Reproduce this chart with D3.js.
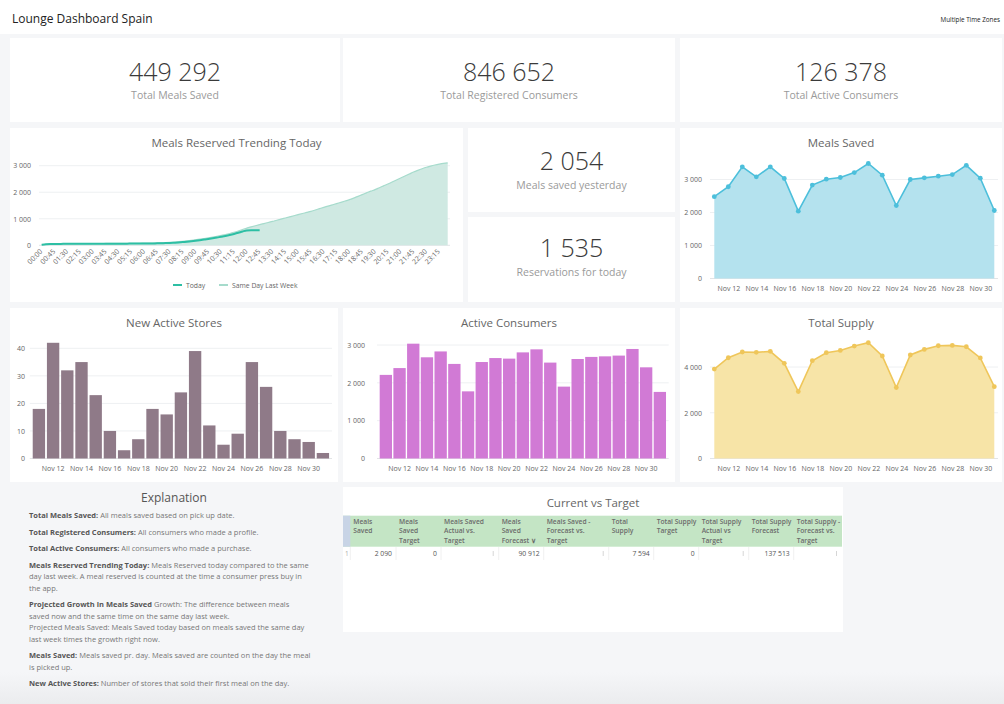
<!DOCTYPE html>
<html>
<head>
<meta charset="utf-8">
<script src="https://cdn.jsdelivr.net/npm/d3@7"></script>
<style>
body { margin: 0; width: 1004px; height: 704px; overflow: hidden; position: relative;
       background: #f5f6f8; font-family: "Open Sans", sans-serif; }
.panel { position: absolute; background: #fff; }
.kpi-num { font-size: 25px; font-weight: 300; fill: #3a3a3a; }
.kpi-lab { font-size: 10.5px; fill: #9a9a9a; }
.title { font-size: 11.5px; fill: #666; }
.axis text { font-family: "Open Sans", sans-serif; font-size: 7px; fill: #666; }
#explain { position: absolute; left: 29px; top: 510px; font-size: 7.5px; line-height: 11.5px; color: #777; white-space: nowrap; }
#explain p { margin: 0 0 5px 0; }
#explain b { color: #555; }
</style>
</head>
<body>
<script>
// ---------- data ----------
var kpiLabels = ["Total Meals Saved", "Total Registered Consumers", "Total Active Consumers"];
var kpiValues = [449292, 846652, 126378];
var smallKpiLabels = ["Meals saved yesterday", "Reservations for today"];
var smallKpiValues = [2054, 1535];

var timeSlots = [
  "00:00","00:15","00:30","00:45","01:00","01:15","01:30","01:45","02:00","02:15","02:30","02:45",
  "03:00","03:15","03:30","03:45","04:00","04:15","04:30","04:45","05:00","05:15","05:30","05:45",
  "06:00","06:15","06:30","06:45","07:00","07:15","07:30","07:45","08:00","08:15","08:30","08:45",
  "09:00","09:15","09:30","09:45","10:00","10:15","10:30","10:45","11:00","11:15","11:30","11:45",
  "12:00","12:15","12:30","12:45","13:00","13:15","13:30","13:45","14:00","14:15","14:30","14:45",
  "15:00","15:15","15:30","15:45","16:00","16:15","16:30","16:45","17:00","17:15","17:30","17:45",
  "18:00","18:15","18:30","18:45","19:00","19:15","19:30","19:45","20:00","20:15","20:30","20:45",
  "21:00","21:15","21:30","21:45","22:00","22:15","22:30","22:45","23:00","23:15","23:30","23:45"];
var timeTicks = ["00:00","00:45","01:30","02:15","03:00","03:45","04:30","05:15","06:00","06:45","07:30",
  "08:15","09:00","09:45","10:30","11:15","12:00","12:45","13:30","14:15","15:00","15:45","16:30",
  "17:15","18:00","18:45","19:30","20:15","21:00","21:45","22:30","23:15"];
var lastWeekMeals = [
  25,35,45,50,55,58,60,62,63,64, 65,66,67,68,68,69,70,70,71,72,
  73,74,75,77,80,83,87,92,98,104, 112,122,135,150,168,188,210,232,256,282,
  310,340,372,405,445,490,540,595,650,695, 738,780,820,860,900,945,988,1030,1072,1113,
  1155,1197,1238,1280,1330,1380,1430,1477,1523,1570, 1620,1670,1720,1780,1845,1910,1975,2040,2100,2170,
  2240,2310,2385,2460,2535,2610,2685,2760,2825,2885, 2940,2985,3025,3060,3090,3110];
var todayMeals = [
  20,35,45,50,52,54,55,56,57,58, 58,59,59,60,60,61,61,62,62,63,
  63,64,65,66,67,69,71,74,78,83, 90,98,108,120,135,152,172,193,216,240,
  265,292,320,350,385,425,470,520,560,565, 565,565];

var days = ["Nov 11","Nov 12","Nov 13","Nov 14","Nov 15","Nov 16","Nov 17","Nov 18","Nov 19","Nov 20",
  "Nov 21","Nov 22","Nov 23","Nov 24","Nov 25","Nov 26","Nov 27","Nov 28","Nov 29","Nov 30","Dec 1"];
var dayTicks = ["Nov 12","Nov 14","Nov 16","Nov 18","Nov 20","Nov 22","Nov 24","Nov 26","Nov 28","Nov 30"];
var mealsSaved = [2480,2780,3385,3080,3385,3030,2040,2830,3010,3060,3210,3485,3130,2210,3000,3050,3100,3150,3430,3040,2060];
var newActiveStores = [18,42,32,35,23,10,3,7,18,16,24,39,12,5,9,35,26,10,7,6,2];
var activeConsumers = [2210,2390,3035,2675,2830,2500,1775,2550,2655,2640,2805,2885,2535,1900,2630,2685,2700,2720,2895,2410,1760];
var totalSupply = [3910,4405,4655,4640,4685,4160,2925,4275,4625,4725,4915,5060,4480,3100,4525,4770,4930,4945,4885,4395,3140];

var tableHeaders = ["Meals\nSaved", "Meals\nSaved\nTarget", "Meals Saved\nActual vs.\nTarget", "Meals\nSaved\nForecast \u2228",
  "Meals Saved -\nForecast vs.\nTarget", "Total\nSupply", "Total Supply\nTarget", "Total Supply\nActual vs\nTarget",
  "Total Supply\nForecast", "Total Supply -\nForecast vs.\nTarget"];
var tableRow = [2090, 0, null, 90912, null, 7594, 0, null, 137513, null];

var explanation = [
  ["Total Meals Saved:", ["All meals saved based on pick up date."]],
  ["Total Registered Consumers:", ["All consumers who made a profile."]],
  ["Total Active Consumers:", ["All consumers who made a purchase."]],
  ["Meals Reserved Trending Today:", ["Meals Reserved today compared to the same",
     "day last week. A meal reserved is counted at the time a consumer press buy in", "the app."]],
  ["Projected Growth in Meals Saved", ["Growth: The difference between meals",
     "saved now and the same time on the same day last week.",
     "Projected Meals Saved: Meals Saved today based on meals saved the same day",
     "last week times the growth right now."]],
  ["Meals Saved:", ["Meals saved pr. day. Meals saved are counted on the day the meal", "is picked up."]],
  ["New Active Stores:", ["Number of stores that sold their first meal on the day."]]
];

// ---------- helpers ----------
var fmtNum = d3.formatLocale({decimal: ",", thousands: " ", grouping: [3], currency: ["", ""]}).format(",d");
var body = d3.select("body");

// bottom shade, drawn first so it stays underneath
body.append("div").style("position", "absolute").style("left", "0").style("top", "672px")
  .style("width", "1004px").style("height", "32px")
  .style("background", "linear-gradient(#f5f6f800, #ebecee)");

function panel(x, y, w, h) {
  return body.append("svg").attr("class", "panel")
    .style("left", x + "px").style("top", y + "px")
    .attr("width", w).attr("height", h);
}

function kpi(svg, w, value, label, numY, labY) {
  svg.append("text").attr("class", "kpi-num").attr("x", w / 2).attr("y", numY)
    .attr("text-anchor", "middle").text(fmtNum(value));
  svg.append("text").attr("class", "kpi-lab").attr("x", w / 2).attr("y", labY)
    .attr("text-anchor", "middle").text(label);
}

function title(svg, w, text) {
  svg.append("text").attr("class", "title").attr("x", w / 2).attr("y", 19)
    .attr("text-anchor", "middle").text(text);
}

function grid(svg, y, ticks, x1, x2) {
  svg.append("g").selectAll("line").data(ticks).join("line")
    .attr("x1", x1).attr("x2", x2)
    .attr("y1", function(d) { return y(d); }).attr("y2", function(d) { return y(d); })
    .attr("stroke", function(d) { return d === 0 ? "#e2e4e6" : "#eef0f2"; });
}

function yAxis(svg, y, ticks, lx) {
  svg.append("g").attr("class", "axis").attr("transform", "translate(" + lx + ",0)")
    .call(d3.axisLeft(y).tickValues(ticks).tickSize(0).tickPadding(0).tickFormat(fmtNum))
    .call(function(g) { g.select(".domain").remove(); });
}

function xAxis(svg, x, ticks, baseY) {
  svg.append("g").attr("class", "axis").attr("transform", "translate(0," + baseY + ")")
    .call(d3.axisBottom(x).tickValues(ticks).tickSize(0).tickPadding(8))
    .call(function(g) { g.select(".domain").remove(); });
}

// ---------- header ----------
var header = panel(0, 0, 1004, 34);
header.append("text").attr("x", 12).attr("y", 23).attr("font-size", 12).attr("fill", "#222")
  .text("Lounge Dashboard Spain");
header.append("text").attr("x", 1000).attr("y", 22).attr("font-size", 6.3).attr("fill", "#222")
  .attr("text-anchor", "end").text("Multiple Time Zones");

// ---------- KPI row ----------
var kpiPos = [[10, 330], [343, 332], [680, 322]];
kpiPos.forEach(function(p, i) {
  var s = panel(p[0], 38, p[1], 84);
  kpi(s, p[1], kpiValues[i], kpiLabels[i], 43, 61);
});
var s1 = panel(468, 128, 207, 84);
kpi(s1, 207, smallKpiValues[0], smallKpiLabels[0], 42, 61);
var s2 = panel(468, 217, 207, 85);
kpi(s2, 207, smallKpiValues[1], smallKpiLabels[1], 40, 59);

// ---------- Meals Reserved Trending Today ----------
(function() {
  var w = 453, svg = panel(10, 128, w, 174);
  title(svg, w, "Meals Reserved Trending Today");
  var x = d3.scalePoint().domain(timeSlots).range([31.7, 437.7]);
  var y = d3.scaleLinear().domain([0, 3000]).range([117.3, 37.7]);
  grid(svg, y, [0, 1000, 2000, 3000], 29, 440);
  yAxis(svg, y, [0, 1000, 2000, 3000], 21);

  var area = d3.area().x(function(d, i) { return x(timeSlots[i]); })
    .y0(y(0)).y1(function(d) { return y(d); }).curve(d3.curveMonotoneX);
  var line = d3.line().x(function(d, i) { return x(timeSlots[i]); })
    .y(function(d) { return y(d); }).curve(d3.curveMonotoneX);
  svg.append("path").datum(lastWeekMeals).attr("d", area).attr("fill", "#cfe9e2");
  svg.append("path").datum(lastWeekMeals).attr("d", line).attr("fill", "none")
    .attr("stroke", "#a6dbcc").attr("stroke-width", 1.2);
  svg.append("path").datum(todayMeals).attr("d", line).attr("fill", "none")
    .attr("stroke", "#2dbfa4").attr("stroke-width", 2);

  var gx = svg.append("g").attr("class", "axis").attr("transform", "translate(0," + y(0) + ")")
    .call(d3.axisBottom(x).tickValues(timeTicks).tickSize(0))
    .call(function(g) { g.select(".domain").remove(); });
  gx.selectAll("text").attr("y", 0).attr("dy", "0.35em").attr("x", 0)
    .attr("text-anchor", "end").attr("font-size", 6.8)
    .attr("transform", "translate(-1,5) rotate(-45)");

  var legend = [["Today", "#2dbfa4", 163], ["Same Day Last Week", "#a6dbcc", 209]];
  legend.forEach(function(l) {
    svg.append("line").attr("x1", l[2]).attr("x2", l[2] + 9).attr("y1", 157).attr("y2", 157)
      .attr("stroke", l[1]).attr("stroke-width", 2);
    svg.append("text").attr("x", l[2] + 13).attr("y", 159.5).attr("font-size", 6.8)
      .attr("fill", "#666").text(l[0]);
  });
})();

// ---------- area + dots charts ----------
function areaChart(px, py, data, yMax, ticks, stroke, fill, name, topY) {
  var w = 322, svg = panel(px, py, w, 174);
  title(svg, w, name);
  var x = d3.scalePoint().domain(days).range([34.3, 314.3]);
  var y = d3.scaleLinear().domain([0, yMax]).range([150.5, topY]);
  grid(svg, y, ticks, 30, 318);
  yAxis(svg, y, ticks, 22);
  var area = d3.area().x(function(d, i) { return x(days[i]); }).y0(y(0)).y1(function(d) { return y(d); });
  var line = d3.line().x(function(d, i) { return x(days[i]); }).y(function(d) { return y(d); });
  svg.append("path").datum(data).attr("d", area).attr("fill", fill);
  svg.append("path").datum(data).attr("d", line).attr("fill", "none")
    .attr("stroke", stroke).attr("stroke-width", 1.6);
  svg.append("g").selectAll("circle").data(data).join("circle")
    .attr("cx", function(d, i) { return x(days[i]); }).attr("cy", function(d) { return y(d); })
    .attr("r", 2.4).attr("fill", stroke);
  xAxis(svg, x, dayTicks, y(0));
}
areaChart(680, 128, mealsSaved, 3000, [0, 1000, 2000, 3000], "#4cbfdb", "#b4e2ee", "Meals Saved", 51.5);
areaChart(680, 308, totalSupply, 4000, [0, 2000, 4000], "#efc65a", "#f7e4a7", "Total Supply", 59);

// ---------- bar charts ----------
function barChart(px, py, w, data, yMax, ticks, color, name, xr, pad, topY, lx) {
  var svg = panel(px, py, w, 174);
  title(svg, w, name);
  var x = d3.scaleBand().domain(days).range(xr).paddingInner(pad).paddingOuter(pad / 2);
  var y = d3.scaleLinear().domain([0, yMax]).range([150.5, topY]);
  grid(svg, y, ticks, xr[0] - 2, xr[1] + 2);
  yAxis(svg, y, ticks, lx);
  svg.append("g").selectAll("rect").data(data).join("rect")
    .attr("x", function(d, i) { return x(days[i]); })
    .attr("y", function(d) { return y(d); })
    .attr("width", x.bandwidth())
    .attr("height", function(d) { return y(0) - y(d); })
    .attr("fill", color);
  xAxis(svg, x, dayTicks, y(0));
}
barChart(10, 308, 328, newActiveStores, 40, [0, 10, 20, 30, 40], "#8f7a88", "New Active Stores",
  [21.8, 320], 0.13, 40.3, 15);
barChart(343, 308, 332, activeConsumers, 3000, [0, 1000, 2000, 3000], "#d17ad5", "Active Consumers",
  [36, 323.7], 0.1, 37, 22);

// ---------- explanation ----------
body.append("div").style("position", "absolute").style("left", "10px").style("top", "489px")
  .style("width", "328px").style("text-align", "center").style("font-size", "12px").style("color", "#555")
  .text("Explanation");
var ex = body.append("div").attr("id", "explain");
explanation.forEach(function(e) {
  var p = ex.append("p");
  p.append("b").text(e[0]);
  p.append("span").html(" " + e[1].join("<br>"));
});

// ---------- table ----------
(function() {
  var w = 500, svg = panel(343, 487, w, 145);
  svg.append("text").attr("class", "title").attr("x", w / 2).attr("y", 20)
    .attr("text-anchor", "middle").text("Current vs Target");
  var edges = [0, 7.3, 53, 98, 155.7, 200.7, 265.7, 310.7, 355.7, 405.7, 450.7, 499];
  svg.append("rect").attr("x", 0).attr("y", 28.7).attr("width", 499).attr("height", 31).attr("fill", "#c4e5c5");
  svg.append("rect").attr("x", 0).attr("y", 28.7).attr("width", 7.3).attr("height", 31).attr("fill", "#c8d4e6");
  tableHeaders.forEach(function(h, i) {
    var t = svg.append("text").attr("x", edges[i + 1] + 3).attr("y", 37)
      .attr("font-size", 6.7).attr("font-weight", 600).attr("fill", "#6b6b6b");
    h.split("\n").forEach(function(line, j) {
      t.append("tspan").attr("x", edges[i + 1] + 3).attr("dy", j === 0 ? 0 : 9.3).text(line);
    });
  });
  svg.append("g").selectAll("line").data(edges.slice(1, 11)).join("line")
    .attr("x1", function(d) { return d; }).attr("x2", function(d) { return d; })
    .attr("y1", 60).attr("y2", 73).attr("stroke", "#f0f0f0");
  svg.append("text").attr("x", 2).attr("y", 69).attr("font-size", 6.5).attr("fill", "#aaa").text("1");
  tableRow.forEach(function(v, i) {
    var right = edges[i + 2] - 4;
    if (v === null) {
      svg.append("rect").attr("x", right - 2).attr("y", 64).attr("width", 1).attr("height", 5).attr("fill", "#d6d6d6");
    } else {
      svg.append("text").attr("x", right).attr("y", 69).attr("text-anchor", "end")
        .attr("font-size", 6.8).attr("fill", "#555").text(fmtNum(v));
    }
  });
})();
</script>
</body>
</html>
